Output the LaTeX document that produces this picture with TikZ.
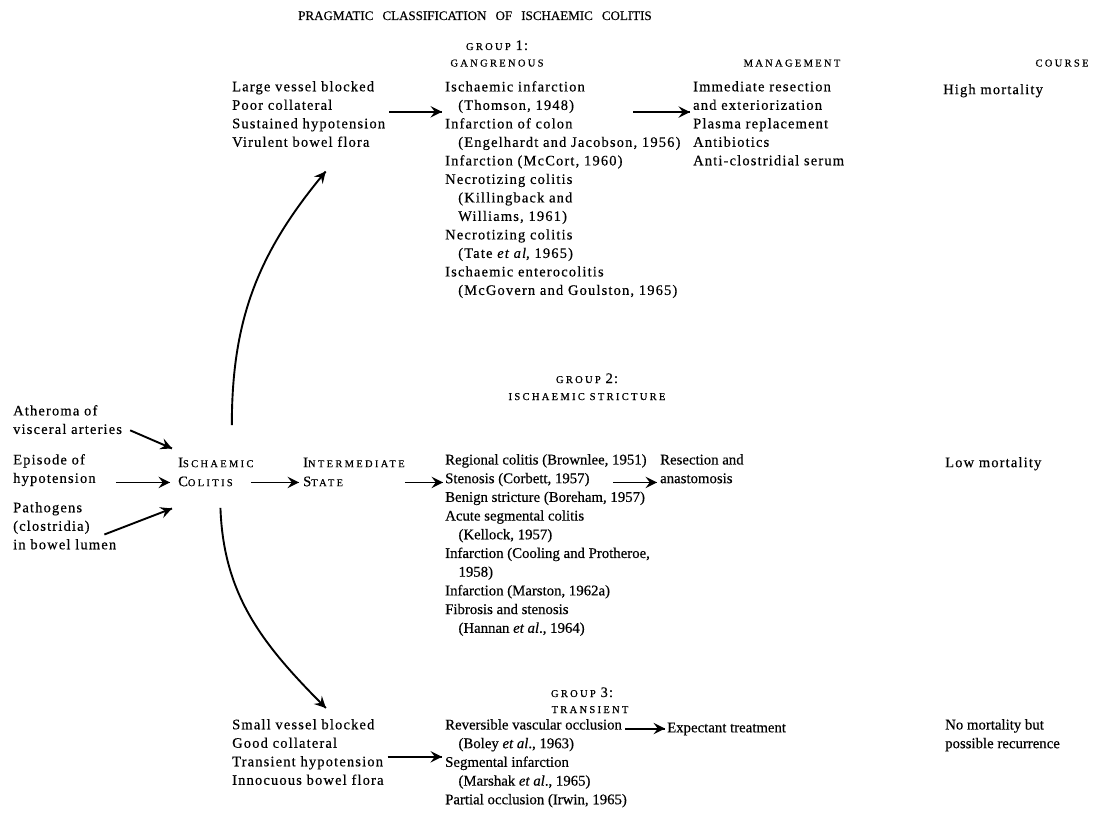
\documentclass[tikz,border=0pt]{standalone}
\usepackage{fontspec}
\setmainfont{Liberation Serif}[LetterSpace=8,FakeBold=0.4]
\newfontfamily\narrowfont{Liberation Serif}[FakeBold=0.4]
\newfontfamily\spacedcaps{Liberation Serif}[LetterSpace=22,FakeBold=0.5]
\usetikzlibrary{arrows}
\usetikzlibrary{decorations.markings}
\newcommand\bodyfont{\fontsize{14.5}{18.5}\selectfont}
\newcommand\listfont{\narrowfont\fontsize{14.8}{18.7}\selectfont}
\newcommand\capsc[2]{#1{\spacedcaps\fontsize{10.5}{12}\selectfont #2}}
\newcommand\ind{\hspace*{0.9em}}
\tikzset{myptr/.style={line width=1.9pt,decoration={markings,mark=at position 1 with %
    {\arrow[scale=1.7]{stealth}}},postaction={decorate}}}
\tikzset{txt/.style={anchor=north west,inner sep=0pt,align=left,font=\bodyfont,
    execute at begin node=\strut}}
\tikzset{nrw/.style={txt,font=\listfont}}
\tikzset{hd/.style={anchor=base,inner sep=0pt,font=\bodyfont}}

\begin{document}
\begin{tikzpicture}[x=1pt,y=-1pt]

	  \useasboundingbox (0,0) rectangle (1108,824);

	  % headings
	  \node [hd,font=\narrowfont\fontsize{13}{14}\selectfont] (title) at (475,20) {PRAGMATIC\hspace{0.45em} CLASSIFICATION\hspace{0.45em} OF\hspace{0.45em} ISCHAEMIC\hspace{0.45em} COLITIS};
	  \node [hd] (grp1) at (497,50) {\capsc{}{GROUP} 1:};
	  \node [hd] (gang) at (497,66.5) {\capsc{}{GANGRENOUS}};
	  \node [hd] (mgmthd) at (792,66.5) {\capsc{}{MANAGEMENT}};
	  \node [hd] (coursehd) at (1062,66.5) {\capsc{}{COURSE}};

	  % group 1
	  \node [txt] (g1cause) at (232,81) {Large vessel blocked\\Poor collateral\\Sustained hypotension\\Virulent bowel flora};
	  \node [txt] (g1list) at (445,81) {Ischaemic infarction\\\ind(Thomson, 1948)\\Infarction of colon\\\ind(Engelhardt and Jacobson, 1956)\\Infarction (McCort, 1960)\\Necrotizing colitis\\\ind(Killingback and\\\ind Williams, 1961)\\Necrotizing colitis\\\ind(Tate \textit{et al}, 1965)\\Ischaemic enterocolitis\\\ind(McGovern and Goulston, 1965)};
	  \node [txt] (g1mgmt) at (693,81) {Immediate resection\\and exteriorization\\Plasma replacement\\Antibiotics\\Anti-clostridial serum};
	  \node [txt] (g1course) at (943,81) {High mortality};

	  % causes
	  \node [txt] (ather) at (13,405) {Atheroma of\\visceral arteries};
	  \node [txt] (episode) at (13,454) {Episode of\\hypotension};
	  \node [txt] (patho) at (13,502) {Pathogens\\(clostridia)\\in bowel lumen};
	  \node [txt] (isch) at (178,454) {\capsc{I}{SCHAEMIC}};
	  \node [txt] (colit) at (178,473) {\capsc{C}{OLITIS}};
	  \node [txt] (inter) at (303,454) {\capsc{I}{NTERMEDIATE}};
	  \node [txt] (state) at (303,473) {\capsc{S}{TATE}};

	  % group 2
	  \node [hd] (grp2) at (587,383) {\capsc{}{GROUP} 2:};
	  \node [hd] (strict) at (587,400) {\capsc{}{ISCHAEMIC STRICTURE}};
	  \node [nrw] (g2list) at (445,454) {Regional colitis (Brownlee, 1951)\\Stenosis (Corbett, 1957)\\Benign stricture (Boreham, 1957)\\Acute segmental colitis\\\ind(Kellock, 1957)\\Infarction (Cooling and Protheroe,\\\ind 1958)\\Infarction (Marston, 1962a)\\Fibrosis and stenosis\\\ind(Hannan \textit{et al}., 1964)};
	  \node [nrw] (g2mgmt) at (660,454) {Resection and\\anastomosis};
	  \node [txt] (g2course) at (945,454) {Low mortality};

	  % group 3
	  \node [hd] (grp3) at (582,697) {\capsc{}{GROUP} 3:};
	  \node [hd] (trans) at (590,713) {\capsc{}{TRANSIENT}};
	  \node [txt] (g3cause) at (232,719) {Small vessel blocked\\Good collateral\\Transient hypotension\\Innocuous bowel flora};
	  \node [nrw] (g3list) at (445,719) {Reversible vascular occlusion\\\ind(Boley \textit{et al}., 1963)\\Segmental infarction\\\ind(Marshak \textit{et al}., 1965)\\Partial occlusion (Irwin, 1965)};
	  \node [nrw] (g3mgmt) at (667,719) {Expectant treatment};
	  \node [nrw] (g3course) at (945,719) {No mortality but\\possible recurrence};

	  % arrows into ischaemic colitis
	  \draw [myptr] ([xshift=8pt,yshift=-8pt]ather.east) -- ([xshift=-6pt,yshift=15pt]isch.west);
	  \draw [myptr] ([xshift=20pt]episode.east |- colit.west) -- ([xshift=-8pt]colit.west);
	  \draw [myptr] ([xshift=-12pt,yshift=-6pt]patho.east) -- ([xshift=-6pt,yshift=-26pt]colit.west);
	  \draw [myptr] ([xshift=18pt]colit.east) -- ([xshift=-4pt]state.west);
	  \draw [myptr] (inter.east |- state.west) -- ([xshift=-2pt]g2list.west |- state.west);

	  % the two branches
	  \draw [myptr] ([xshift=16pt,yshift=29pt]isch.north) to[out=90,in=230] ([xshift=17pt,yshift=-19pt]g1cause.south);
	  \draw [myptr] ([xshift=15pt,yshift=-16pt]colit.south) to[out=-88,in=135] ([xshift=18pt,yshift=11pt]g3cause.north);

	  % groups to management
	  \draw [myptr] ([xshift=4pt,yshift=5pt]g1cause.east) -- ([xshift=-3pt,yshift=5pt]g1cause.east -| g1list.west);
	  \draw [myptr] ([xshift=-60pt,yshift=14pt]g1mgmt.west) -- ([xshift=-3pt,yshift=14pt]g1mgmt.west);
	  \draw [myptr] ([xshift=-47pt]g2mgmt.west |- state.west) -- ([xshift=-3pt]g2mgmt.west |- state.west);
	  \draw [myptr] ([xshift=4pt,yshift=-2pt]g3cause.east) -- ([xshift=-3pt,yshift=-2pt]g3cause.east -| g3list.west);
	  \draw [myptr] ([xshift=-42pt]g3mgmt.west) -- ([xshift=-2pt]g3mgmt.west);

\end{tikzpicture}
\end{document}
